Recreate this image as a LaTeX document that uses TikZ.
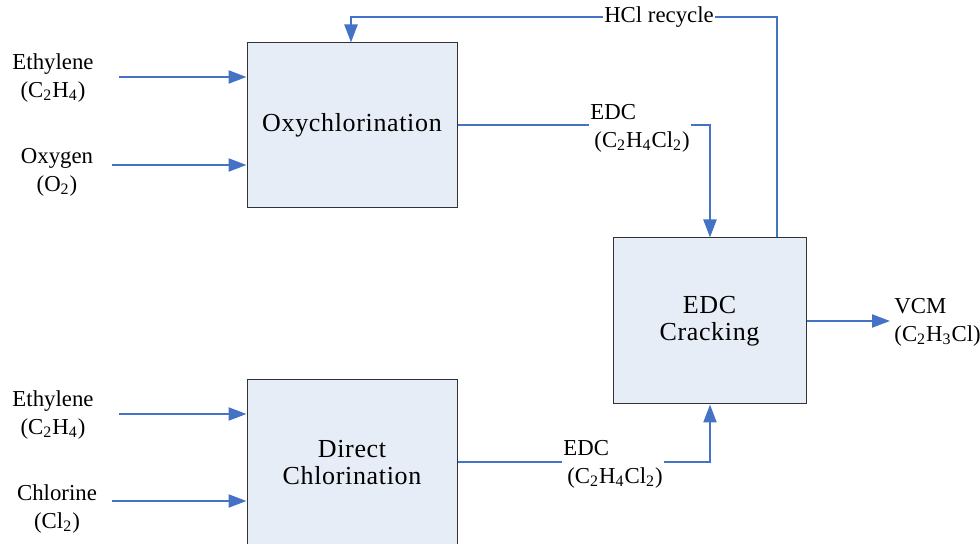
\documentclass[tikz,border=0pt]{standalone}
\usepackage{fontspec}
\setmainfont{Liberation Serif}
\newfontfamily\boxfont[LetterSpace=2.5]{Liberation Serif}
\usetikzlibrary{arrows.meta}
\newcommand\chsub[1]{\textsubscript{#1}}
\definecolor{flowblue}{HTML}{4472C4}
\definecolor{boxfill}{HTML}{E7EDF7}
\tikzset{
  procbox/.style={draw=black!80, line width=0.5pt, fill=boxfill, align=center,
    font=\boxfont\fontsize{13}{13.5}\selectfont, inner sep=0pt},
  flow/.style={draw=flowblue, line width=1.1pt, -{Triangle[length=9pt,width=6.5pt]}},
  lbl/.style={align=center, font=\fontsize{11.4}{14}\selectfont, inner sep=1pt},
  lblw/.style={lbl, fill=white, inner sep=0.5pt},
}
\begin{document}
\begin{tikzpicture}[x=0.5pt,y=-0.5pt]
\useasboundingbox (0,0) rectangle (980,544);
\clip (0,0) rectangle (980,544);
% boxes
\node[procbox, minimum width=105pt, minimum height=82.5pt] (oxy) at (352,125.5) {Oxychlorination};
\node[procbox, minimum width=105pt, minimum height=82.5pt] (dc) at (352,462.5) {Direct\\Chlorination};
\node[procbox, minimum width=96.5pt, minimum height=83pt] (crk) at (709.5,321) {EDC\\Cracking};
% feed labels
\node[lbl] (eth1) at (53,78) {Ethylene\\(C\chsub{2}H\chsub{4})};
\node[lbl] (o2) at (57,172) {Oxygen\\(O\chsub{2})};
\node[lbl] (eth2) at (53,415) {Ethylene\\(C\chsub{2}H\chsub{4})};
\node[lbl] (cl2) at (57,509) {Chlorine\\(Cl\chsub{2})};
% feed start points
\coordinate (s1) at (119,77);
\coordinate (s2) at (112,165);
\coordinate (s3) at (119,414);
\coordinate (s4) at (112,501);
\draw[flow] (s1) -- (s1 -| oxy.west);
\draw[flow] (s2) -- (s2 -| oxy.west);
\draw[flow] (s3) -- (s3 -| dc.west);
\draw[flow] (s4) -- (s4 -| dc.west);
% EDC streams
\draw[flow] (oxy.east |- 0,125) -- (710,125) -- (710,125 |- crk.north);
\draw[flow] (dc.east |- 0,462) -- (710,462) -- (710,462 |- crk.south);
% HCl recycle
\coordinate (hclturn) at (777,17);
\draw[flow] (777,0 |- crk.north) -- (hclturn) -- (351,17) -- (351,0 |- oxy.north);
% VCM
\coordinate (vcmend) at (890,321);
\draw[flow] (crk.east) -- (vcmend);
% stream labels
\node[lblw] (hcl) at (659,17) {HCl recycle};
\node[lblw, anchor=west, align=left] (edc1) at (589,128) {EDC\\\hspace{2pt}(C\chsub{2}H\chsub{4}Cl\chsub{2})};
\node[lblw, anchor=west, align=left] (edc2) at (562,464) {EDC\\\hspace{2pt}(C\chsub{2}H\chsub{4}Cl\chsub{2})};
\node[lbl, anchor=west, align=left] (vcm) at (892,322) {VCM\\(C\chsub{2}H\chsub{3}Cl)};
\end{tikzpicture}
\end{document}
